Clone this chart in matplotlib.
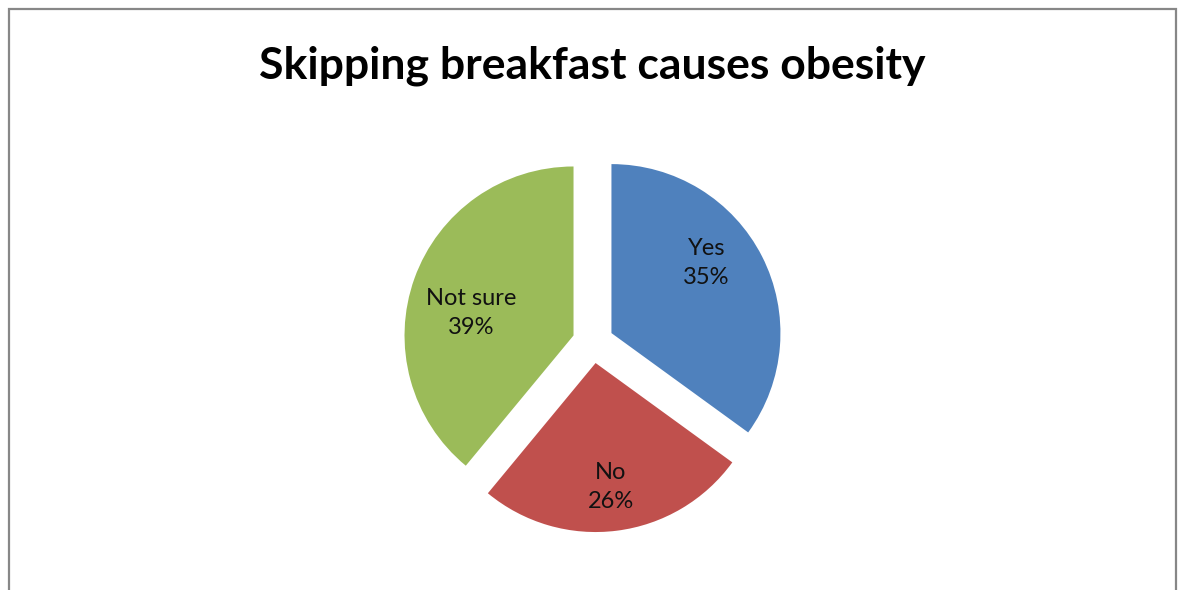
import math
import matplotlib
matplotlib.use("Agg")
import matplotlib.pyplot as plt
from matplotlib.patches import Rectangle

# Survey answers
categories = ["Yes", "No", "Not sure"]
shares = [35, 26, 39]
colors = ["#4F81BD", "#C0504D", "#9BBB59"]
title = "Skipping breakfast causes obesity"

W, H = 1178, 590
fig = plt.figure(figsize=(W / 100, H / 100), dpi=100)
fig.patch.set_facecolor("white")
ax = fig.add_axes([0, 0, 1, 1])

radius = 169
gap = 20.7                       # pull-out distance of every slice
label_dist = [0.70, 0.74, 0.62]  # label distance, fraction of the radius
label_turn = [9.4, -0.3, 7.4]    # counter-clockwise nudge of each label, degrees

wedges, texts, autotexts = ax.pie(
    shares,
    colors=colors,
    startangle=90,
    counterclock=False,
    explode=[gap] * len(shares),
    radius=radius,
    center=(593, H - 342.5),
    autopct="%1.0f%%",
    textprops=dict(family="Lato", fontsize=17, color="#111111"),
    frame=True,
)
for w, t, lab, dist, turn in zip(wedges, autotexts, categories,
                                 label_dist, label_turn):
    mid = math.radians((w.theta1 + w.theta2) / 2 + turn)
    cx, cy = w.center
    t.set_position((cx + dist * radius * math.cos(mid),
                    cy + dist * radius * math.sin(mid)))
    t.set_text(f"{lab}\n{t.get_text()}")
    t.set_linespacing(1.45)
    t.set_ha("center")
    t.set_va("center")

ax.set_xlim(0, W)
ax.set_ylim(0, H)
ax.set_aspect("equal")
ax.axis("off")

# chart frame
ax.add_patch(Rectangle((9, -20), 1167, H - 8.5 + 20, fill=False,
                       edgecolor="#878787", linewidth=1.6))

fig.text(592.5 / W, 1 - 78 / H, title, ha="center", va="baseline",
         family="Lato", fontweight="bold", fontsize=32, color="#000000")

fig.savefig("out.png", dpi=100, facecolor="white")
